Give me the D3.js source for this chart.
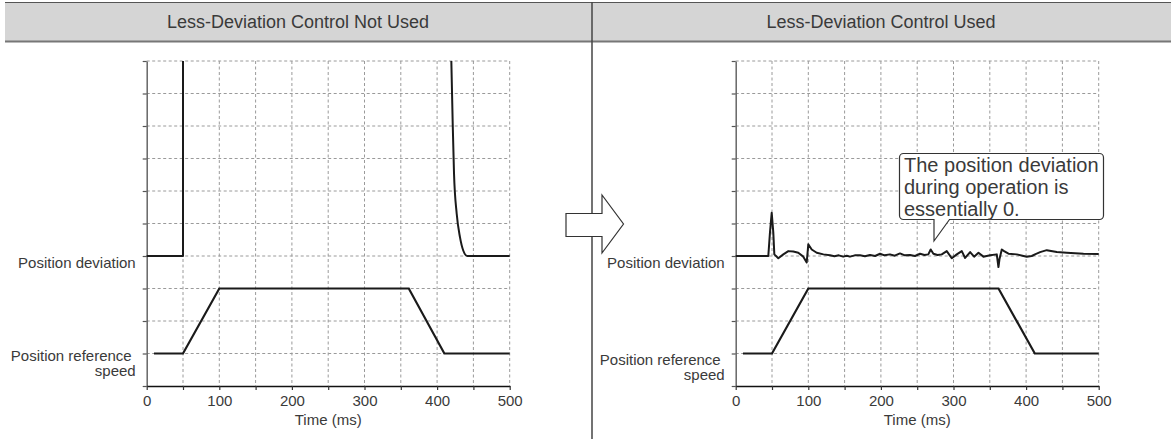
<!DOCTYPE html>
<html>
<head>
<meta charset="utf-8">
<script src="https://cdn.jsdelivr.net/npm/d3@7"></script>
<style>
    body { margin: 0; background: #fff; }
    svg text { font-family: "Liberation Sans", Arial, sans-serif; fill: #3a3a3a; }
</style>
</head>
<body>
<svg id="chart" width="1171" height="439"></svg>
<script>
// --- data ---
const panelTitles = ['Less-Deviation Control Not Used', 'Less-Deviation Control Used'];
const timeTicks = [0, 50, 100, 150, 200, 250, 300, 350, 400, 450, 500];
const timeLabels = [0, 100, 200, 300, 400, 500];
const levelTicks = [0, 1, 2, 3, 4, 5, 6, 7, 8, 9, 10];

// position reference speed (levels: 1 = stop, 3 = running)
const refSpeedLeft = [[10, 1], [50, 1], [100, 3], [361, 3], [410, 1], [500, 1]];
const refSpeedRight = [[10, 1], [50, 1], [100, 3], [362, 3], [412, 1], [500, 1]];

// position deviation without control (baseline 4, clipped at 10)
const devLeftRise = [[0, 4], [50, 4], [50, 10]];
const devLeftFall = [[419.6, 10], [421.5, 8.07], [423.3, 6.54], [427, 5.3], [431.5, 4.58],
    [436, 4.17], [441.6, 4.0], [500, 4.0]];

// position deviation with control
const devRight = [
    [0, 4.0], [44.9, 4.0], [47.2, 4.72], [49.6, 5.33], [51.8, 4.72], [53.2, 4.05], [58.7, 3.93],
    [65.6, 4.05], [72.5, 4.15], [79.3, 4.14], [86.2, 4.1], [93.1, 3.98], [97.8, 3.8], [100, 4.36],
    [104.7, 4.2], [111.6, 4.1], [120.8, 4.05], [129.9, 4.02], [136, 3.99], [142, 4.02], [148, 3.98],
    [153, 4.01], [157.4, 3.98], [164, 4.02], [171.2, 4.02], [178, 3.99], [185, 4.03], [192, 4.0],
    [198.8, 4.07], [205, 4.02], [212.5, 4.05], [219, 4.01], [226.3, 4.08], [233, 4.02], [240.1, 4.03],
    [247, 4.0], [253.9, 4.07], [260, 4.03], [265.3, 4.05], [268.6, 4.2], [272.3, 4.07], [278, 4.03],
    [283.8, 4.05], [290.7, 4.15], [297.6, 3.93], [304.5, 4.05], [311.4, 4.15], [316, 3.94],
    [322.9, 4.12], [328.4, 3.98], [334.4, 4.1], [341.2, 3.98], [350.4, 4.02], [359.6, 4.05],
    [361.9, 3.66], [363.3, 3.9], [366.5, 4.2], [369.7, 4.15], [375.7, 4.07], [387.2, 4.05],
    [395, 4.01], [400.9, 3.98], [407.8, 4.0], [413, 4.06], [419.3, 4.12], [428.5, 4.18],
    [442.3, 4.12], [456, 4.1], [479, 4.07], [500, 4.06]
];

const calloutLines = ['The position deviation', 'during operation is', 'essentially 0.'];

// --- layout ---
const svg = d3.select('#chart');
const W = 1171, H = 439;
const plotTop = 61, plotBottom = 386;

const panels = [
    {
        title: panelTitles[0], cx: 298, left: 146.7, right: 509.7,
        refSpeed: refSpeedLeft, devParts: [devLeftRise], devCurve: devLeftFall, refDy: 0
    },
    {
        title: panelTitles[1], cx: 881, left: 735.7, right: 1098.7,
        refSpeed: refSpeedRight, devParts: [devRight], devCurve: null, refDy: 4
    }
];

// header band
svg.append('rect')
    .attr('x', 5).attr('y', 3).attr('width', W - 5).attr('height', 38.5)
    .attr('fill', '#d5d5d5');
svg.append('line')
    .attr('x1', 5).attr('x2', W).attr('y1', 2.5).attr('y2', 2.5)
    .attr('stroke', '#555').attr('stroke-width', 1);
svg.append('line')
    .attr('x1', 5).attr('x2', W).attr('y1', 41.5).attr('y2', 41.5)
    .attr('stroke', '#777').attr('stroke-width', 2);

panels.forEach(p => {
    svg.append('text')
        .attr('x', p.cx).attr('y', 28)
        .attr('text-anchor', 'middle')
        .style('font-size', '18px')
        .text(p.title);
});

// divider
svg.append('line')
    .attr('x1', 592).attr('x2', 592).attr('y1', 2).attr('y2', H)
    .attr('stroke', '#444').attr('stroke-width', 1.5);

panels.forEach(p => {
    const x = d3.scaleLinear().domain([0, 500]).range([p.left, p.right]);
    const y = d3.scaleLinear().domain([0, 10]).range([plotBottom, plotTop]);
    const g = svg.append('g');

    // dashed grid
    g.append('g').selectAll('line')
        .data(timeTicks.filter(d => d > 0))
        .join('line')
        .attr('x1', d => x(d)).attr('x2', d => x(d))
        .attr('y1', y(10)).attr('y2', y(0))
        .attr('stroke', '#9a9a9a').attr('stroke-width', 1)
        .attr('stroke-dasharray', '3,2.5');
    g.append('g').selectAll('line')
        .data(levelTicks.filter(d => d > 0))
        .join('line')
        .attr('x1', x(0)).attr('x2', x(500))
        .attr('y1', d => y(d)).attr('y2', d => y(d))
        .attr('stroke', '#9a9a9a').attr('stroke-width', 1)
        .attr('stroke-dasharray', '3,2.5');

    // y axis
    const yAxis = g.append('g')
        .attr('transform', `translate(${x(0)},0)`)
        .call(d3.axisLeft(y).tickValues(levelTicks).tickSize(4).tickSizeOuter(0).tickFormat(''));
    yAxis.select('.domain').attr('stroke', '#666').attr('stroke-width', 1.5);
    yAxis.selectAll('.tick line').attr('stroke', '#555').attr('stroke-width', 1.2);

    // x axis
    const xAxis = g.append('g')
        .attr('transform', `translate(0,${y(0)})`)
        .call(d3.axisBottom(x).tickValues(timeTicks).tickSize(4).tickSizeOuter(0)
            .tickFormat(d => timeLabels.includes(d) ? d : ''));
    xAxis.select('.domain').attr('stroke', '#111').attr('stroke-width', 1.5);
    xAxis.selectAll('.tick line').attr('stroke', '#333').attr('stroke-width', 1.2);
    xAxis.selectAll('.tick text')
        .attr('y', 9)
        .style('font-size', '15px')
        .style('font-family', '"Liberation Sans", Arial, sans-serif')
        .attr('fill', '#3a3a3a');

    g.append('text')
        .attr('x', x(250)).attr('y', 425)
        .attr('text-anchor', 'middle')
        .style('font-size', '15px')
        .text('Time (ms)');

    // side labels
    g.append('text')
        .attr('x', x(0) - 11).attr('y', 268)
        .attr('text-anchor', 'end')
        .style('font-size', '15px')
        .text('Position deviation');
    g.append('text')
        .attr('x', x(0) - 15).attr('y', 361 + p.refDy)
        .attr('text-anchor', 'end')
        .style('font-size', '15px')
        .text('Position reference');
    g.append('text')
        .attr('x', x(0) - 11).attr('y', 376 + p.refDy)
        .attr('text-anchor', 'end')
        .style('font-size', '15px')
        .text('speed');

    // curves
    const lin = d3.line().x(d => x(d[0])).y(d => y(d[1]));
    const smooth = d3.line().x(d => x(d[0])).y(d => y(d[1])).curve(d3.curveMonotoneX);

    g.append('path')
        .attr('d', lin(p.refSpeed))
        .attr('fill', 'none').attr('stroke', '#1a1a1a').attr('stroke-width', 2.2);

    p.devParts.forEach(part => {
        g.append('path')
            .attr('d', lin(part))
            .attr('fill', 'none').attr('stroke', '#1a1a1a').attr('stroke-width', 2)
            .attr('stroke-linejoin', 'round');
    });
    if (p.devCurve) {
        g.append('path')
            .attr('d', smooth(p.devCurve))
            .attr('fill', 'none').attr('stroke', '#1a1a1a').attr('stroke-width', 2);
    }
});

// arrow between the panels
const arrowPts = [[566, 213.5], [602, 213.5], [602, 195], [623.5, 224], [602, 253], [602, 236.5], [566, 236.5]];
svg.append('polygon')
    .attr('points', arrowPts.map(d => d.join(',')).join(' '))
    .attr('fill', '#fff').attr('stroke', '#333').attr('stroke-width', 1.2);

// callout on the right panel
const bx = 899.5, by = 153.5, bw = 204, bh = 66, r = 4;
const tipX = 934, tipY = 241, baseR = 949.5;
const callout = d3.path();
callout.moveTo(bx + r, by);
callout.lineTo(bx + bw - r, by);
callout.arcTo(bx + bw, by, bx + bw, by + r, r);
callout.lineTo(bx + bw, by + bh - r);
callout.arcTo(bx + bw, by + bh, bx + bw - r, by + bh, r);
callout.lineTo(baseR, by + bh);
callout.lineTo(tipX, tipY);
callout.lineTo(tipX, by + bh);
callout.lineTo(bx + r, by + bh);
callout.arcTo(bx, by + bh, bx, by + bh - r, r);
callout.lineTo(bx, by + r);
callout.arcTo(bx, by, bx + r, by, r);
callout.closePath();
svg.append('path')
    .attr('d', callout.toString())
    .attr('fill', '#fff').attr('stroke', '#333').attr('stroke-width', 1.2);

svg.append('g').selectAll('text')
    .data(calloutLines)
    .join('text')
    .attr('x', 904).attr('y', (d, i) => 172 + i * 22)
    .style('font-size', '20px')
    .text(d => d);
</script>
</body>
</html>
